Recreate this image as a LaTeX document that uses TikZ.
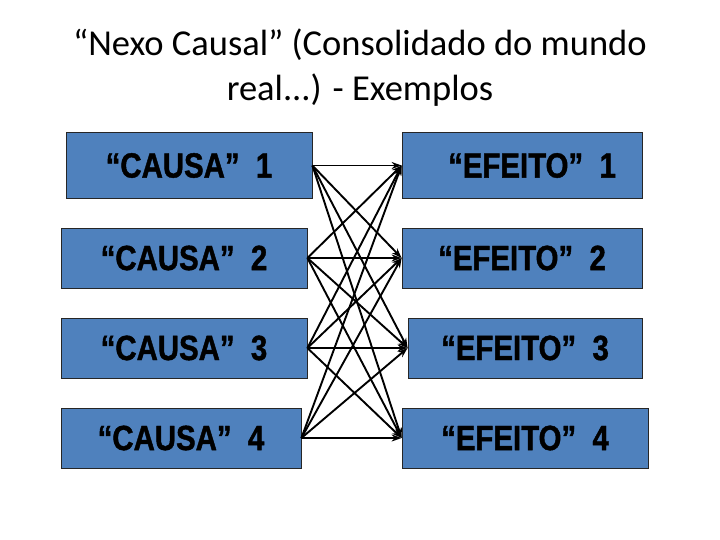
\documentclass[tikz,border=0pt]{standalone}
\usepackage{fontspec}
\setmainfont{Carlito}
\newfontfamily\boxfont[FakeStretch=0.84,FakeBold=1.2]{Liberation Sans}
\usetikzlibrary{arrows.meta}
\definecolor{boxblue}{RGB}{79,129,189}
\begin{document}
\begin{tikzpicture}[x=1pt,y=-1pt,
  box/.style={draw=black!85,line width=0.8pt,fill=boxblue,inner sep=0pt,
    font=\boxfont\bfseries\fontsize{35}{35}\selectfont,text=black},
  link/.style={line width=1.9pt,-{Stealth[length=10pt,width=7pt]}}]
\useasboundingbox (0,0) rectangle (720,540);
\node[font=\fontsize{36.5}{45}\selectfont,align=center] (title) at (360,68)
  {“Nexo Causal” (Consolidado do mundo\\real...) - Exemplos};
% causes
\node[box,minimum width=246pt,minimum height=66pt] (c1) at (189,165.5) {“CAUSA”\ \ 1\hspace{26pt}};
\node[box,minimum width=246pt,minimum height=60pt] (c2) at (184,258) {“CAUSA”\ \ 2};
\node[box,minimum width=246pt,minimum height=60pt] (c3) at (184,348) {“CAUSA”\ \ 3};
\node[box,minimum width=240pt,minimum height=60pt] (c4) at (181,438) {“CAUSA”\ \ 4};
% effects
\node[box,minimum width=240pt,minimum height=66pt] (e1) at (522,165.5) {\hspace{20pt}“EFEITO”\ \ 1};
\node[box,minimum width=240pt,minimum height=60pt] (e2) at (522,258) {“EFEITO”\ \ 2};
\node[box,minimum width=234pt,minimum height=60pt] (e3) at (525,348) {“EFEITO”\ \ 3};
\node[box,minimum width=246pt,minimum height=60pt] (e4) at (525,438) {“EFEITO”\ \ 4};
% connectors
\foreach \i in {1,2,3,4}{
  \foreach \j in {1,2,3,4}{
    \draw[link] (c\i.east) -- (e\j.west);
  }
}
\end{tikzpicture}
\end{document}
